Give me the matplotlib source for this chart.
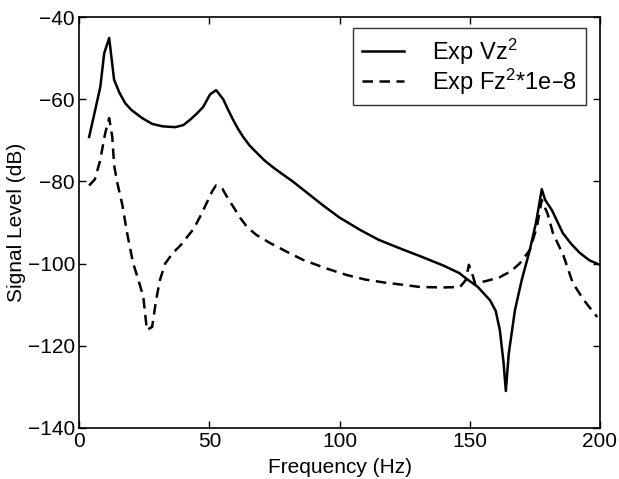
import matplotlib
matplotlib.use("Agg")
import matplotlib.pyplot as plt

plt.rcParams['font.family'] = ['Liberation Sans', 'DejaVu Sans']
plt.rcParams['mathtext.default'] = 'regular'

freq_v = [3.8, 6, 8.1, 9.6, 11.5, 13.4, 15.5, 17.7, 20, 24.2, 28, 32, 36.9, 40, 42.6,
          45, 47.6, 50.3, 52.6, 55.3, 57, 59.1, 61, 63, 65.5, 68.3, 71, 74.5, 78, 82,
          88, 94, 100, 107.9, 115, 123.2, 131, 140, 146, 149, 153, 157.8, 160, 161.6,
          163, 163.9, 165, 167.4, 170, 173.1, 175.5, 177.7, 179, 181.6, 185.8, 189,
          192.3, 196, 200]
level_v = [-69.2, -63, -57, -48.8, -45.1, -55.3, -58.5, -61, -62.6, -64.6, -66, -66.6,
           -66.8, -66.3, -65, -63.6, -61.9, -58.8, -57.8, -60, -62.3, -65, -67.2,
           -69.2, -71.3, -73.1, -74.8, -76.6, -78.2, -80, -83, -86, -88.8, -91.8, -94.2,
           -96.3, -98.2, -100.5, -102.3, -103.8, -105.6, -108.9, -111.5, -116.2, -124,
           -131, -122, -111.3, -104, -96.7, -90, -81.9, -84.5, -87, -92.6, -95.2, -97.4,
           -99.2, -100.3]

freq_f = [3.8, 6, 8, 10, 11.5, 12.7, 13.4, 14.5, 16.5, 18.4, 20.7, 22.5, 24.6, 26, 28,
          29.5, 31, 33, 36, 39, 41.5, 44, 46.5, 49, 51, 52.5, 55, 57, 59, 62, 64.5, 68,
          73.3, 80, 86, 95, 102.9, 110, 118.2, 125, 131, 140, 146.3, 148.5, 149.7, 151,
          152, 156, 161.6, 166, 169.3, 173.1, 175.8, 177.7, 180, 182, 186, 189.6, 194,
          199]
level_f = [-81, -79.5, -75, -68.2, -64.6, -69.2, -76, -80, -85.5, -92.6, -99.9, -103.5,
           -108, -116.2, -115.4, -109, -104, -100, -97.4, -95.5, -93.5, -91.5, -88.5,
           -85.2, -82.5, -81, -81.8, -84, -86, -89, -91.1, -93, -95, -97.2, -99.1, -101.2,
           -102.8, -103.9, -104.7, -105.2, -105.7, -105.8, -105.7, -104, -100.3, -102.5,
           -104.7, -104.3, -103.3, -101.8, -99.9, -96.7, -91.1, -84.5, -88, -92.6, -98,
           -104.7, -109, -113]

x_ticks = [0, 50, 100, 150, 200]
y_ticks = [-140, -120, -100, -80, -60, -40]

fig = plt.figure(figsize=(6.19, 4.79), dpi=100)
ax = fig.add_axes([0.128, 0.1065, 0.841, 0.858])

ax.plot(freq_v, level_v, color='black', lw=1.8, label='Exp Vz$^{2}$')
ax.plot(freq_f, level_f, color='black', lw=1.8, linestyle=(0, (4.2, 2.6)),
        label='Exp Fz$^{2}$*1e–8')

ax.set_xlim(0, 200)
ax.set_ylim(-140, -40)
ax.set_xticks(x_ticks)
ax.set_yticks(y_ticks)
ax.tick_params(direction='in', top=True, right=True, labelsize=15, length=5, width=1,
               pad=3)
for s in ax.spines.values():
    s.set_linewidth(1.2)
ax.set_xlabel('Frequency (Hz)', fontsize=15, labelpad=5)
ax.set_ylabel('Signal Level (dB)', fontsize=15, labelpad=1)

leg = ax.legend(loc='upper right', bbox_to_anchor=(0.973, 0.973), fontsize=17,
                frameon=True, fancybox=False, edgecolor='black', handlelength=1.8,
                borderaxespad=0, borderpad=0.35, handletextpad=1.2, labelspacing=0.0)
leg.get_frame().set_linewidth(1.0)

fig.savefig('out.png', dpi=100)
